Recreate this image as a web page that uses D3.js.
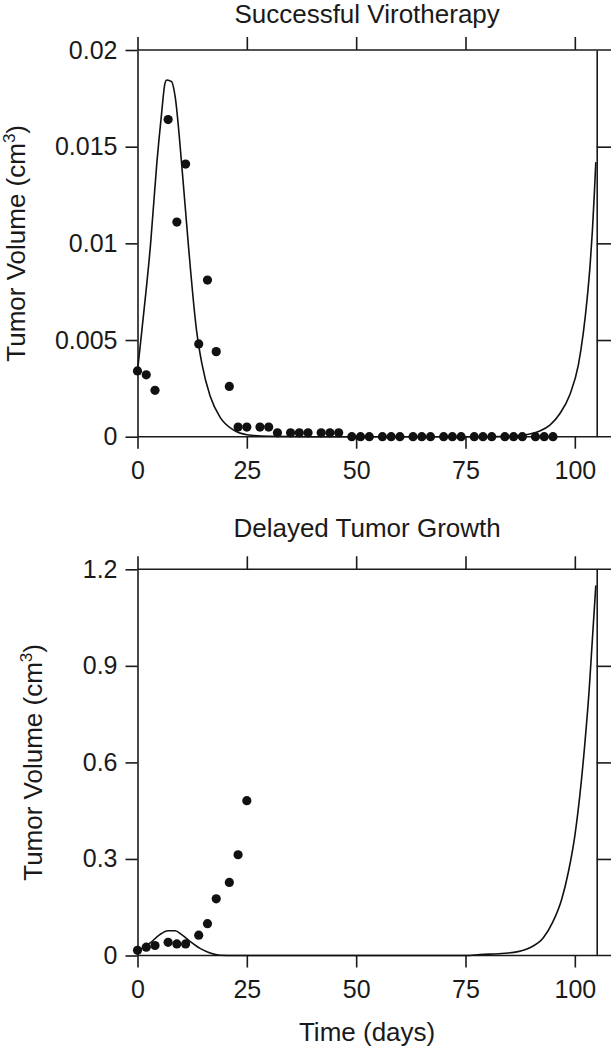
<!DOCTYPE html>
<html>
<head>
<meta charset="utf-8">
<script src="https://cdn.jsdelivr.net/npm/d3@7"></script>
<style>
  body { margin: 0; background: #fff; }
  svg { display: block; font-family: "Liberation Sans", Arial, sans-serif; }
  .axis text { font-size: 25px; fill: #1a1a1a; }
  .axis line, .axis path { stroke: #1a1a1a; stroke-width: 1.6; }
</style>
</head>
<body>
<div id="chart"></div>
<script>
/**
 * DATA
 * */
const xTicks = [0, 25, 50, 75, 100];

// top panel: successful virotherapy
const obsDays1 = [0, 2, 4, 7, 9, 11, 14, 16, 18, 21, 23, 25, 28, 30, 32, 35, 37, 39, 42, 44, 46,
  49, 51, 53, 56, 58, 60, 63, 65, 67, 70, 72, 74, 77, 79, 81, 84, 86, 88, 91, 93, 95];
const obsVol1 = [0.0034, 0.0032, 0.0024, 0.0164, 0.0111, 0.0141, 0.0048, 0.0081, 0.0044, 0.0026,
  0.0005, 0.0005, 0.0005, 0.0005, 0.0002, 0.0002, 0.0002, 0.0002, 0.0002, 0.0002, 0.0002,
  0, 0, 0, 0, 0, 0, 0, 0, 0, 0, 0, 0, 0, 0, 0, 0, 0, 0, 0, 0, 0];
const modelDays1 = [0, 1, 3, 4.4, 5.5, 6.3, 6.7, 7.8, 8.6, 10.1, 11.6, 13.5, 14.7, 16.6, 18.9, 21.9,
  25, 30, 40, 80, 86, 89.7, 92, 94.3, 96.6, 98.9, 100.8, 101.9, 102.8, 103.5, 104, 104.4, 104.8];
const modelVol1 = [0.0034, 0.0055, 0.0100, 0.0141, 0.0167, 0.0183, 0.01845, 0.01836, 0.0176, 0.0141,
  0.0100, 0.0055, 0.0038, 0.0021, 0.0010, 0.00035, 0.0001, 0.00002, 0, 0, 0.00003, 0.00014,
  0.0003, 0.0006, 0.0012, 0.0022, 0.0037, 0.0053, 0.0071, 0.0089, 0.0106, 0.0123, 0.0142];
const yTicks1 = [0, 0.005, 0.01, 0.015, 0.02];

// bottom panel: delayed tumor growth
const obsDays2 = [0, 2, 4, 7, 9, 11, 14, 16, 18, 21, 23, 25];
const obsVol2 = [0.016, 0.026, 0.031, 0.041, 0.036, 0.036, 0.063, 0.099, 0.176, 0.227, 0.313, 0.481];
const modelDays2 = [0, 2.9, 5.1, 7, 8.6, 10.1, 12, 14.3, 16.6, 18.9, 22, 75, 78.3, 84, 87, 89.7,
  92.8, 95, 97, 98.5, 100, 101.1, 102.3, 103.3, 104, 104.8];
const modelVol2 = [0.013, 0.039, 0.065, 0.077, 0.077, 0.065, 0.044, 0.022, 0.008, 0.001, 0, 0,
  0.003, 0.007, 0.012, 0.024, 0.055, 0.105, 0.175, 0.258, 0.372, 0.492, 0.66, 0.83, 0.98, 1.15];
const yTicks2 = [0, 0.3, 0.6, 0.9, 1.2];

/**
 * LAYOUT
 * */
const width = 611, height = 1050;
const left = 137.5, right = 596.7;

const svg = d3.select("#chart").append("svg")
  .attr("width", width)
  .attr("height", height);

const x = d3.scaleLinear().domain([0, 105]).range([left, right]);

function panel(opt) {
  const y = d3.scaleLinear().domain([0, opt.yMax]).range([opt.bottom, opt.top]);
  const g = svg.append("g");

  // frame lines top / bottom run on past the right edge
  [opt.top, opt.bottom].forEach(yy => {
    g.append("line")
      .attr("x1", left).attr("x2", width)
      .attr("y1", yy).attr("y2", yy)
      .attr("stroke", "#1a1a1a").attr("stroke-width", 1.6);
  });

  g.append("g").attr("class", "axis")
    .attr("transform", `translate(${left},0)`)
    .call(d3.axisLeft(y).tickValues(opt.yTicks).tickSize(12).tickSizeOuter(0)
      .tickPadding(8).tickFormat(d => String(d)));

  g.append("g").attr("class", "axis")
    .attr("transform", `translate(${right},0)`)
    .call(d3.axisRight(y).tickValues(opt.yTicks.slice(1, -1)).tickSize(16).tickSizeOuter(0)
      .tickFormat(""));

  g.append("g").attr("class", "axis")
    .attr("transform", `translate(0,${opt.top})`)
    .call(d3.axisTop(x).tickValues(xTicks).tickSize(13).tickFormat(""))
    .call(a => a.select(".domain").remove());

  g.append("g").attr("class", "axis")
    .attr("transform", `translate(0,${opt.bottom})`)
    .call(d3.axisBottom(x).tickValues(xTicks).tickSize(12).tickPadding(13))
    .call(a => a.select(".domain").remove());

  // model curve
  const line = d3.line()
    .x((d, i) => x(opt.modelDays[i]))
    .y(d => y(d))
    .curve(d3.curveMonotoneX);

  g.append("path")
    .datum(opt.modelVol)
    .attr("d", line)
    .attr("fill", "none")
    .attr("stroke", "#111")
    .attr("stroke-width", 1.6);

  // observations
  g.selectAll("circle")
    .data(opt.obsVol)
    .join("circle")
    .attr("cx", (d, i) => x(opt.obsDays[i]))
    .attr("cy", d => y(d))
    .attr("r", 4.6)
    .attr("fill", "#111");

  // title
  g.append("text")
    .attr("x", (left + right) / 2)
    .attr("y", opt.titleY)
    .attr("text-anchor", "middle")
    .attr("font-size", 26)
    .attr("fill", "#1a1a1a")
    .text(opt.title);

  // y label
  const yl = g.append("text")
    .attr("transform", `translate(${opt.labelX},${(opt.top + opt.bottom) / 2}) rotate(-90)`)
    .attr("text-anchor", "middle")
    .attr("font-size", 26)
    .attr("fill", "#1a1a1a");
  yl.append("tspan").text("Tumor Volume (cm");
  yl.append("tspan").attr("font-size", 17).attr("dy", -10).text("3");
  yl.append("tspan").attr("dy", 10).text(")");
}

panel({
  top: 50, bottom: 436.7, yMax: 0.02, yTicks: yTicks1,
  obsDays: obsDays1, obsVol: obsVol1, modelDays: modelDays1, modelVol: modelVol1,
  title: "Successful Virotherapy", titleY: 23, labelX: 25
});

panel({
  top: 569.3, bottom: 955.5, yMax: 1.2, yTicks: yTicks2,
  obsDays: obsDays2, obsVol: obsVol2, modelDays: modelDays2, modelVol: modelVol2,
  title: "Delayed Tumor Growth", titleY: 537, labelX: 41.7
});

svg.append("text")
  .attr("x", (left + right) / 2)
  .attr("y", 1041)
  .attr("text-anchor", "middle")
  .attr("font-size", 26)
  .attr("fill", "#1a1a1a")
  .text("Time (days)");
</script>
</body>
</html>
